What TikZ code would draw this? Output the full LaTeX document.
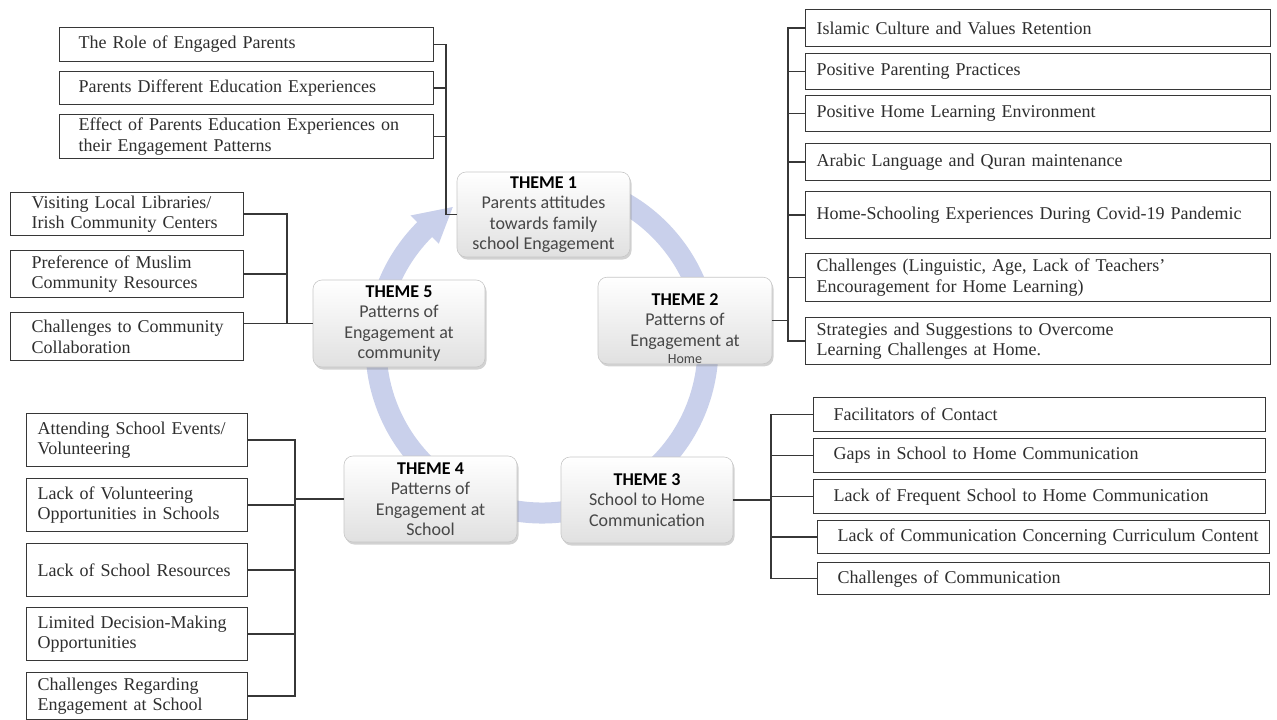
\documentclass[tikz,border=0pt]{standalone}
\usepackage{fontspec}
\setmainfont{Liberation Serif}
\newfontfamily\calfont{Carlito}
\usetikzlibrary{shadows,calc}
\hyphenpenalty=10000
\exhyphenpenalty=10000
\definecolor{ringc}{RGB}{201,208,235}
\definecolor{linec}{RGB}{55,55,55}
\tikzset{
  sub/.style={draw=linec, line width=1.2pt, fill=white, align=left, anchor=north west,
    inner ysep=0pt, text=black!82, font=\fontsize{18}{20.5}\selectfont},
  theme/.style={rounded corners=9pt, draw=black!22, line width=0.6pt, top color=white, bottom color=black!12,
    drop shadow={shadow xshift=1.5pt, shadow yshift=-2.5pt, opacity=0.35},
    align=center, text=black!72, inner sep=0pt, font=\calfont\fontsize{18}{20.5}\selectfont},
  conn/.style={draw=linec, line width=1.3pt}
}
\begin{document}
\begin{tikzpicture}[x=1pt,y=-1pt]
\useasboundingbox[fill=white] (0,0) rectangle (1277,720);
% ring
\draw[ringc, line width=21pt] (542,347) ++(280:166) arc[start angle=280, end angle=586, radius=166];
\fill[ringc] ($(542,347)+(225:186)$) -- ($(542,347)+(237.5:166)$) -- ($(542,347)+(225:146)$) -- cycle;
% themes
\node[theme, minimum width=173, minimum height=85] (th1) at (543.5,214.5)
  {{\bfseries\color{black}THEME 1}\\Parents attitudes\\towards family\\school Engagement};
\node[theme, minimum width=174, minimum height=85] (th2) at (685,320.5)
  {{\rule{0pt}{28pt}\bfseries\color{black}THEME 2}\\Patterns of\\Engagement at\\[-3pt]{\fontsize{14}{16}\selectfont Home}};
\node[theme, minimum width=172, minimum height=87] (th5) at (399,323.5)
  {{\bfseries\color{black}THEME 5}\\Patterns of\\Engagement at\\community};
\node[theme, minimum width=173, minimum height=86] (th4) at (430.5,499)
  {{\bfseries\color{black}THEME 4}\\Patterns of\\Engagement at\\School};
\node[theme, minimum width=172, minimum height=86] (th3) at (647,500)
  {{\bfseries\color{black}THEME 3}\\School to Home\\Communication};
% theme 1 subs
\node[sub, inner xsep=19pt, text width=336pt, minimum height=34pt] (t1a) at (59,27) {The Role of Engaged Parents};
\node[sub, inner xsep=19pt, text width=336pt, minimum height=33pt] (t1b) at (59,71) {Parents Different Education Experiences};
\node[sub, inner xsep=19pt, text width=336pt, minimum height=44pt] (t1c) at (59,114) {Effect of Parents Education Experiences on\\their Engagement Patterns};
% theme 2 subs
\node[sub, inner xsep=11pt, text width=443pt, minimum height=37pt] (t2a) at (805,9) {Islamic Culture and Values Retention};
\node[sub, inner xsep=11pt, text width=443pt, minimum height=36pt] (t2b) at (805,53) {Positive Parenting Practices};
\node[sub, inner xsep=11pt, text width=443pt, minimum height=36pt] (t2c) at (805,95) {Positive Home Learning Environment};
\node[sub, inner xsep=11pt, text width=443pt, minimum height=37pt] (t2d) at (805,143) {Arabic Language and Quran maintenance};
\node[sub, inner xsep=11pt, text width=443pt, minimum height=47pt] (t2e) at (805,191) {Home-Schooling~Experiences~During~Covid-19~Pandemic};
\node[sub, inner xsep=11pt, text width=443pt, minimum height=48pt] (t2f) at (805,253) {Challenges (Linguistic, Age, Lack of Teachers'\\Encouragement for Home Learning)};
\node[sub, inner xsep=11pt, text width=443pt, minimum height=47pt] (t2g) at (805,317) {Strategies and Suggestions to Overcome\\Learning Challenges at Home.};
% theme 5 subs
\node[sub, inner xsep=21pt, text width=191pt, minimum height=43pt] (t5a) at (10,192) {Visiting~Local~Libraries/\\Irish~Community~Centers};
\node[sub, inner xsep=21pt, text width=191pt, minimum height=47pt] (t5b) at (10,250) {Preference of Muslim\\Community Resources};
\node[sub, inner xsep=21pt, text width=191pt, minimum height=48pt] (t5c) at (10,312) {Challenges~to~Community\\Collaboration};
% theme 4 subs
\node[sub, inner xsep=11pt, text width=199pt, minimum height=53pt] (t4a) at (26,413) {Attending~School~Events/\\Volunteering};
\node[sub, inner xsep=11pt, text width=199pt, minimum height=53pt] (t4b) at (26,478) {Lack of Volunteering\\Opportunities~in~Schools};
\node[sub, inner xsep=11pt, text width=199pt, minimum height=53pt] (t4c) at (26,543) {Lack of School Resources};
\node[sub, inner xsep=11pt, text width=199pt, minimum height=53pt] (t4d) at (26,607) {Limited~Decision-Making\\Opportunities};
\node[sub, inner xsep=11pt, text width=199pt, minimum height=47pt] (t4e) at (26,672) {Challenges Regarding\\Engagement at School};
% theme 3 subs
\node[sub, inner xsep=20pt, text width=412pt, minimum height=34pt] (t3a) at (813,397) {Facilitators of Contact};
\node[sub, inner xsep=20pt, text width=412pt, minimum height=34pt] (t3b) at (813,438) {Gaps in School to Home Communication};
\node[sub, inner xsep=20pt, text width=412pt, minimum height=34pt] (t3c) at (813,479) {Lack of Frequent School to Home Communication};
\node[sub, inner xsep=20pt, text width=412pt, minimum height=33pt] (t3d) at (817,520) {Lack~of~Communication~Concerning~Curriculum~Content};
\node[sub, inner xsep=20pt, text width=412pt, minimum height=32pt] (t3e) at (817,562) {Challenges of Communication};
% trunk coordinates
\path (446,0) coordinate (x1) (788,0) coordinate (x2) (771,0) coordinate (x3) (295,0) coordinate (x4) (287,0) coordinate (x5);
\coordinate (j1) at (th1.west -| x1);
\coordinate (j2) at (th2.east -| x2);
\coordinate (j3) at (th3.east -| x3);
\coordinate (j4) at (th4.west -| x4);
\coordinate (j5) at (th5.west -| x5);
% connectors
\draw[conn] (t1a.east) -| (j1) -- (th1.west);
\draw[conn] (t1b.east) -- (t1b.east -| j1);
\draw[conn] (t1c.east) -- (t1c.east -| j1);
\draw[conn] (t2a.west) -| (j2) -- (th2.east);
\draw[conn] (t2g.west) -| (j2);
\foreach \n in {t2b,t2c,t2d,t2e,t2f} \draw[conn] (\n.west) -- (\n.west -| j2);
\draw[conn] (t3a.west) -| (j3) -- (th3.east);
\draw[conn] (t3e.west) -| (j3);
\foreach \n in {t3b,t3c,t3d} \draw[conn] (\n.west) -- (\n.west -| j3);
\draw[conn] (t4a.east) -| (j4) -- (th4.west);
\draw[conn] (t4e.east) -| (j4);
\foreach \n in {t4b,t4c,t4d} \draw[conn] (\n.east) -- (\n.east -| j4);
\draw[conn] (t5a.east) -| (j5) -- (th5.west);
\draw[conn] (t5b.east) -- (t5b.east -| j5);
\draw[conn] (t5c.east |- j5) -- (j5);
\end{tikzpicture}
\end{document}
